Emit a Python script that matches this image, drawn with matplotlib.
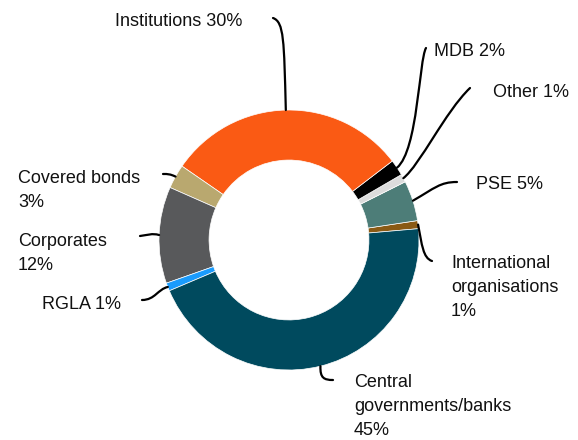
import numpy as np
import matplotlib
matplotlib.use('Agg')
import matplotlib.pyplot as plt
from matplotlib.path import Path
from matplotlib.patches import PathPatch

plt.rcParams['font.family'] = ['Liberation Sans', 'DejaVu Sans']

# Data (counterclockwise from the right-hand side)
labels = ['International\norganisations\n1%', 'PSE 5%', 'Other 1%', 'MDB 2%',
          'Institutions 30%', 'Covered bonds\n3%', 'Corporates\n12%', 'RGLA 1%',
          'Central\ngovernments/banks\n45%']
values = [1, 5, 1, 2, 30, 3, 12, 1, 45]
colors = ['#8a5a14', '#4d7d78', '#dcdcdc', '#000000', '#fa5a14',
          '#b9a86f', '#58595b', '#1a9bfc', '#004a5e']

# label top-left (pixels from top-left corner)
text_pos = [(451, 255), (476, 176), (493, 84), (434, 43), (115, 13),
            (18, 170), (18, 233), (42, 296), (354, 374)]
# leader line: two control points and end point (pixels)
line_ctrl = [[(422, 245), (423, 258), (432, 261)],
             [(435, 188), (440, 182), (457, 182)],
             [(420, 165), (445, 112), (470, 88)],
             [(418, 150), (419, 60), (426, 48)],
             [(284, 40), (284, 22), (273, 18)],
             [(170, 174), (168, 174), (163, 174)],
             [(152, 233), (148, 235), (140, 236)],
             [(158, 289), (155, 300), (142, 300)],
             [(320, 378), (324, 380), (333, 380)]]

W, H = 578, 440
cx, cy, R = 289, 240, 130

fig = plt.figure(figsize=(W / 100, H / 100), dpi=100)
ax = fig.add_axes([0, 0, 1, 1])

wedges, _ = ax.pie(values, colors=colors, startangle=5, counterclock=True,
                   radius=R, center=(cx, H - cy),
                   wedgeprops=dict(width=R * 0.385, edgecolor='white', linewidth=0.5))

for w, lab, tp, ctrl in zip(wedges, labels, text_pos, line_ctrl):
    ang = np.deg2rad((w.theta1 + w.theta2) / 2)
    px = cx + R * np.cos(ang)
    py = (H - cy) + R * np.sin(ang)
    verts = [(px, py)] + [(x, H - y) for x, y in ctrl]
    path = Path(verts, [Path.MOVETO, Path.CURVE4, Path.CURVE4, Path.CURVE4])
    ax.add_patch(PathPatch(path, facecolor='none', edgecolor='black', lw=1.6,
                           capstyle='round'))
    ax.text(tp[0], H - tp[1], lab, ha='left', va='top', fontsize=13,
            linespacing=1.55, color='#111111')

ax.set_xlim(0, W)
ax.set_ylim(0, H)
ax.set_aspect('auto')
ax.axis('off')

plt.savefig('out.png', dpi=100)
